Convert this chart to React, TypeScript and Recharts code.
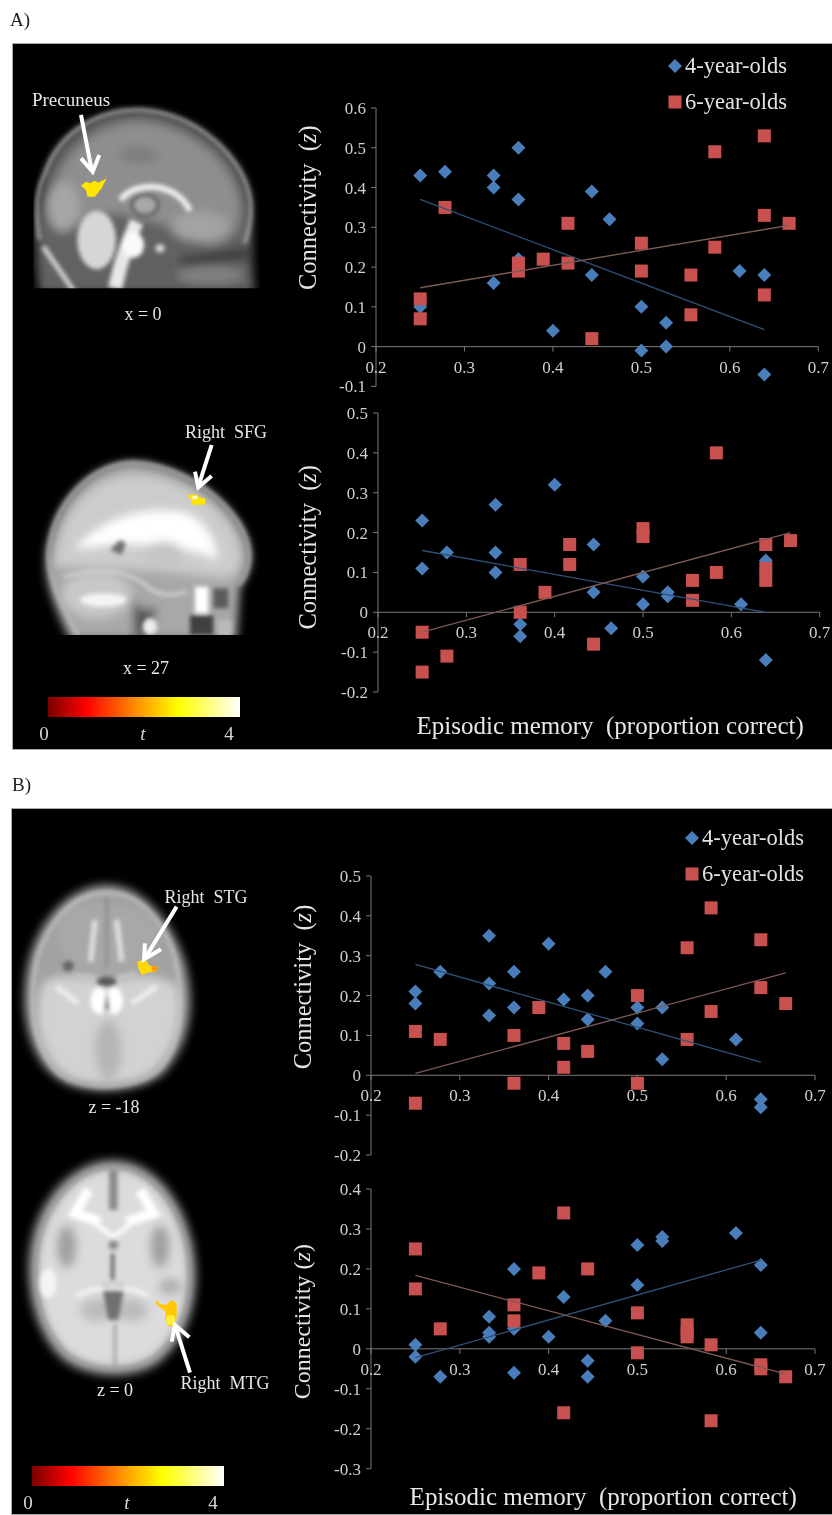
import React from 'react';
import { ScatterChart, Scatter, XAxis, YAxis, ReferenceLine, Legend, Label } from 'recharts';

type Pair = [number, number];

const xTicks = [0.2, 0.3, 0.4, 0.5, 0.6, 0.7];
const xTitle = 'Episodic memory  (proportion correct)';

const precuneusTicks = [-0.1, 0, 0.1, 0.2, 0.3, 0.4, 0.5, 0.6];
const precuneusFour: Pair[] = [[0.25, 0.43], [0.25, 0.1], [0.278, 0.44], [0.333, 0.43], [0.333, 0.4], [0.333, 0.16], [0.361, 0.5], [0.361, 0.37], [0.361, 0.22], [0.4, 0.04], [0.444, 0.39], [0.444, 0.18], [0.464, 0.32], [0.5, 0.1], [0.5, -0.01], [0.528, 0.06], [0.528, 0], [0.611, 0.19], [0.639, 0.18], [0.639, -0.07]];
const precuneusSix: Pair[] = [[0.25, 0.12], [0.25, 0.07], [0.278, 0.35], [0.361, 0.21], [0.361, 0.19], [0.389, 0.22], [0.417, 0.31], [0.417, 0.21], [0.444, 0.02], [0.5, 0.26], [0.5, 0.19], [0.556, 0.18], [0.556, 0.08], [0.583, 0.49], [0.583, 0.25], [0.639, 0.53], [0.639, 0.33], [0.639, 0.13], [0.667, 0.31]];
const precuneusFourTrend: Pair[] = [[0.25, 0.37], [0.639, 0.043]];
const precuneusSixTrend: Pair[] = [[0.25, 0.148], [0.667, 0.305]];

const sfgTicks = [-0.2, -0.1, 0, 0.1, 0.2, 0.3, 0.4, 0.5];
const sfgFour: Pair[] = [[0.25, 0.23], [0.25, 0.11], [0.278, 0.15], [0.333, 0.27], [0.333, 0.15], [0.333, 0.1], [0.361, -0.03], [0.361, -0.06], [0.4, 0.32], [0.444, 0.17], [0.444, 0.05], [0.464, -0.04], [0.5, 0.09], [0.5, 0.02], [0.528, 0.05], [0.528, 0.04], [0.611, 0.02], [0.639, 0.13], [0.639, -0.12]];
const sfgSix: Pair[] = [[0.25, -0.05], [0.25, -0.15], [0.278, -0.11], [0.361, 0.12], [0.361, 0], [0.389, 0.05], [0.417, 0.17], [0.417, 0.12], [0.444, -0.08], [0.5, 0.21], [0.5, 0.19], [0.556, 0.08], [0.556, 0.03], [0.583, 0.4], [0.583, 0.1], [0.639, 0.17], [0.639, 0.11], [0.639, 0.08], [0.667, 0.18]];
const sfgFourTrend: Pair[] = [[0.25, 0.155], [0.639, 0]];
const sfgSixTrend: Pair[] = [[0.25, -0.05], [0.667, 0.2]];

const stgTicks = [-0.2, -0.1, 0, 0.1, 0.2, 0.3, 0.4, 0.5];
const stgFour: Pair[] = [[0.25, 0.21], [0.25, 0.18], [0.278, 0.26], [0.333, 0.35], [0.333, 0.23], [0.333, 0.15], [0.361, 0.26], [0.361, 0.17], [0.4, 0.33], [0.417, 0.19], [0.444, 0.2], [0.444, 0.14], [0.464, 0.26], [0.5, 0.17], [0.5, 0.13], [0.528, 0.17], [0.528, 0.04], [0.611, 0.09], [0.639, -0.06], [0.639, -0.08]];
const stgSix: Pair[] = [[0.25, 0.11], [0.25, -0.07], [0.278, 0.09], [0.361, 0.1], [0.361, -0.02], [0.389, 0.17], [0.417, 0.08], [0.417, 0.02], [0.444, 0.06], [0.5, 0.2], [0.5, -0.02], [0.556, 0.32], [0.556, 0.09], [0.583, 0.42], [0.583, 0.16], [0.639, 0.34], [0.639, 0.22], [0.667, 0.18]];
const stgFourTrend: Pair[] = [[0.25, 0.278], [0.639, 0.033]];
const stgSixTrend: Pair[] = [[0.25, 0.005], [0.667, 0.257]];

const mtgTicks = [-0.3, -0.2, -0.1, 0, 0.1, 0.2, 0.3, 0.4];
const mtgFour: Pair[] = [[0.25, 0.01], [0.25, -0.02], [0.278, -0.07], [0.333, 0.08], [0.333, 0.04], [0.333, 0.03], [0.361, 0.2], [0.361, 0.05], [0.361, -0.06], [0.4, 0.03], [0.417, 0.13], [0.444, -0.03], [0.444, -0.07], [0.464, 0.07], [0.5, 0.26], [0.5, 0.16], [0.528, 0.28], [0.528, 0.27], [0.611, 0.29], [0.639, 0.21], [0.639, 0.04]];
const mtgSix: Pair[] = [[0.25, 0.25], [0.25, 0.15], [0.278, 0.05], [0.361, 0.11], [0.361, 0.07], [0.389, 0.19], [0.417, 0.34], [0.417, -0.16], [0.444, 0.2], [0.5, 0.09], [0.5, -0.01], [0.556, 0.06], [0.556, 0.04], [0.556, 0.03], [0.583, 0.01], [0.583, -0.18], [0.639, -0.04], [0.639, -0.05], [0.667, -0.07]];
const mtgFourTrend: Pair[] = [[0.25, -0.022], [0.639, 0.222]];
const mtgSixTrend: Pair[] = [[0.25, 0.184], [0.667, -0.063]];

const SERIF = '"Liberation Serif", serif';
const BLUE = '#4a7ebb';
const RED = '#c8504e';
const BLUE_LINE = '#2f5178';
const RED_LINE = '#7d5a55';
const AXIS = '#7a7a7a';
const TICK_TEXT = '#cfcfcf';
const Y_AXIS_WIDTH = 100;

const toPoints = (pairs: Pair[]) => pairs.map(([x, y]) => ({ x, y }));

const DiamondMark = (props: any) => {
  const { cx, cy, fill } = props;
  const r = 7;
  return <path d={`M${cx},${cy - r}L${cx + r},${cy}L${cx},${cy + r}L${cx - r},${cy}Z`} fill={fill} />;
};

const SquareMark = (props: any) => {
  const { cx, cy, fill } = props;
  return <rect x={cx - 6.5} y={cy - 6.5} width={13} height={13} fill={fill} />;
};

const NoMark = () => <g />;

// the trend lines come through in the payload too, only the two groups get a row
const renderLegend = (props: any) => (
  <div style={{ fontFamily: SERIF, fontSize: 22.5, color: '#e2e2e2', lineHeight: '36px', whiteSpace: 'nowrap' }}>
    {props.payload.filter((entry: any) => entry.type !== 'none' && entry.value).map((entry: any) => (
      <div key={entry.value} style={{ display: 'flex', alignItems: 'center', height: 36 }}>
        <svg width={16} height={16} style={{ marginRight: 2 }}>
          {entry.type === 'diamond'
            ? <DiamondMark cx={8} cy={8} fill={entry.color} />
            : <SquareMark cx={8} cy={8} fill={entry.color} />}
        </svg>
        {entry.value}
      </div>
    ))}
  </div>
);

interface PlotProps {
  x0: number; x7: number; yTop: number; yBottom: number;
  ticks: number[];
  four: Pair[]; six: Pair[]; fourTrend: Pair[]; sixTrend: Pair[];
  yTitleX: number; yTitleY: number; italicZ?: boolean;
  legendAt?: [number, number];
  xTitleAt?: [number, number];
}

const Plot: React.FC<PlotProps> = ({ x0, x7, yTop, yBottom, ticks, four, six, fourTrend, sixTrend, yTitleX, yTitleY, italicZ, legendAt, xTitleAt }) => {
  const topSpace = 70;
  const bottomSpace = 50;
  const rightSpace = 13;
  const left = x0 - Y_AXIS_WIDTH;
  const top = yTop - topSpace;
  const width = x7 - left + rightSpace;
  const height = yBottom - top + bottomSpace;
  const yMin = ticks[0];
  const yMax = ticks[ticks.length - 1];
  // where y = 0 falls, the x axis labels hang from it
  const zeroY = topSpace + ((yBottom - yTop) * yMax) / (yMax - yMin);

  const renderXTick = (p: any) => (
    <g>
      <line x1={p.x} x2={p.x} y1={zeroY} y2={zeroY + 5} stroke={AXIS} />
      <text x={p.x} y={zeroY + 26} textAnchor="middle" fontFamily={SERIF} fontSize={17} fill={TICK_TEXT}>
        {p.payload.value}
      </text>
    </g>
  );

  const renderYTitle = () => (
    <text
      transform={`translate(${yTitleX - left},${yTitleY - top}) rotate(-90)`}
      textAnchor="middle"
      dominantBaseline="central"
      fontFamily={SERIF}
      fontSize={italicZ ? 24 : 24.5}
      fill="#e4e4e4"
      style={{ whiteSpace: 'pre' }}
    >
      {italicZ ? <>Connectivity (<tspan fontStyle="italic">z</tspan>)</> : <>Connectivity  (<tspan fontStyle="italic">z</tspan>)</>}
    </text>
  );

  const renderXTitle = () => xTitleAt ? (
    <text
      x={xTitleAt[0] - left}
      y={xTitleAt[1] - top}
      textAnchor="middle"
      dominantBaseline="central"
      fontFamily={SERIF}
      fontSize={25}
      fill="#e8e8e8"
      style={{ whiteSpace: 'pre' }}
    >
      {xTitle}
    </text>
  ) : <g />;

  return (
    <div style={{ position: 'absolute', left, top }}>
      <ScatterChart width={width} height={height} margin={{ top: topSpace, right: rightSpace, bottom: bottomSpace - 1, left: 0 }}>
        <XAxis
          type="number"
          dataKey="x"
          domain={[0.2, 0.7]}
          ticks={xTicks}
          interval={0}
          height={1}
          axisLine={false}
          tickLine={false}
          tick={renderXTick}
        >
          <Label content={renderXTitle} />
        </XAxis>
        <YAxis
          type="number"
          dataKey="y"
          domain={[yMin, yMax]}
          ticks={ticks}
          interval={0}
          width={Y_AXIS_WIDTH}
          axisLine={{ stroke: AXIS }}
          tickLine={{ stroke: AXIS }}
          tickSize={5}
          tickMargin={5}
          tick={{ fontFamily: SERIF, fontSize: 17, fill: TICK_TEXT }}
        >
          <Label content={renderYTitle} />
        </YAxis>
        <ReferenceLine y={0} stroke={AXIS} />
        {legendAt && (
          <Legend
            layout="vertical"
            align="center"
            verticalAlign="middle"
            content={renderLegend}
            wrapperStyle={{ left: legendAt[0] - left, top: legendAt[1] - top, width: 140, height: 72, bottom: 'auto', right: 'auto', margin: 0 }}
          />
        )}
        <Scatter name="4-year-olds" data={toPoints(four)} fill={BLUE} shape={DiamondMark} legendType="diamond" isAnimationActive={false} />
        <Scatter name="6-year-olds" data={toPoints(six)} fill={RED} shape={SquareMark} legendType="square" isAnimationActive={false} />
        <Scatter data={toPoints(fourTrend)} shape={NoMark} line={{ stroke: BLUE_LINE, strokeWidth: 1.3 }} legendType="none" isAnimationActive={false} />
        <Scatter data={toPoints(sixTrend)} shape={NoMark} line={{ stroke: RED_LINE, strokeWidth: 1.3 }} legendType="none" isAnimationActive={false} />
      </ScatterChart>
    </div>
  );
};

const Arrow = ({ line, head }: { line: string; head: string }) => (
  <g fill="none" stroke="#fff" strokeWidth={12}>
    <polyline points={line} />
    <polyline points={head} />
  </g>
);

// the brain slices are only sketched, in 3x coordinates of their own
const SagittalOne = () => (
  <g transform="translate(0,40) scale(0.3333)">
    <g clipPath="url(#cutOne)">
      <g filter="url(#wide)">
        <path d="M118,760 C100,620 105,500 135,400 C175,280 290,208 420,210 C580,215 740,350 755,490 C760,560 750,640 765,760 Z" fill="#626262" />
        <path d="M150,540 C140,400 240,250 420,245 C570,255 710,370 720,500 C722,560 700,610 620,615 C540,560 450,540 350,520 C290,520 230,560 190,570 Z" fill="#8e8e8e" />
        <ellipse cx={415} cy={345} rx={60} ry={22} fill="#7b7b7b" />
        <ellipse cx={190} cy={500} rx={48} ry={75} fill="#a6a6a6" />
        <ellipse cx={600} cy={560} rx={85} ry={45} fill="#a3a3a3" />
        <path d="M540,650 L740,620 L750,660 L540,680 Z" fill="#3d3d3d" />
        <ellipse cx={630} cy={705} rx={100} ry={28} fill="#808080" />
        <ellipse cx={460} cy={690} rx={60} ry={40} fill="#606060" />
      </g>
      <g filter="url(#soft)">
        <path d="M118,600 C105,500 110,450 135,400 C175,280 290,208 420,210 C580,215 740,350 752,490 C755,540 745,580 735,610" fill="none" stroke="#b5b5b5" strokeWidth={9} />
        <path d="M130,620 C170,680 200,720 225,760" stroke="#d8d8d8" strokeWidth={14} fill="none" />
        <ellipse cx={290} cy={600} rx={58} ry={88} fill="#d6d6d6" />
        <path d="M345,745 C365,650 390,590 410,545" stroke="#e8e8e8" strokeWidth={42} fill="none" />
        <ellipse cx={400} cy={615} rx={32} ry={38} fill="#fafafa" />
        <ellipse cx={435} cy={495} rx={38} ry={30} fill="#a8a8a8" stroke="#474747" strokeWidth={8} />
        <path d="M362,480 C400,425 525,420 570,512" stroke="#f2f2f2" strokeWidth={18} fill="none" />
        <ellipse cx={480} cy={625} rx={14} ry={12} fill="#ddd" />
      </g>
    </g>
    <polygon points="243,437 258,425 270,430 285,422 295,428 320,415 305,445 285,470 262,470 258,450" fill="#ffe600" />
    <Arrow line="243,225 275,390" head="243,355 278,395 298,345" />
  </g>
);

const SagittalTwo = () => (
  <g transform="translate(0,410) scale(0.3333)">
    <g clipPath="url(#cutTwo)">
      <g filter="url(#wide)">
        <path d="M210,690 C170,600 130,520 140,430 C160,270 280,155 400,155 C560,160 740,300 752,430 C755,480 735,510 720,530 L710,690 Z" fill="#a8a8a8" />
        <path d="M165,470 C170,300 290,190 410,195 C560,200 715,320 722,440 C720,490 690,510 640,500 C520,480 300,470 165,470 Z" fill="#cccccc" />
        <path d="M225,420 C300,320 450,285 560,310 C620,340 650,390 650,450 C560,400 350,390 225,420 Z" fill="#ffffff" />
        <ellipse cx={490} cy={430} rx={60} ry={35} fill="#c4c4c4" />
        <ellipse cx={290} cy={555} rx={105} ry={70} fill="#c8c8c8" />
        <path d="M400,570 L430,600 L470,590 L450,680 L400,680 Z" fill="#555" />
      </g>
      <g filter="url(#soft)">
        <path d="M235,680 C190,590 145,520 145,430 C160,270 280,158 400,158 C560,163 740,300 748,430 C750,470 735,505 715,525" fill="none" stroke="#bdbdbd" strokeWidth={9} />
        <path d="M330,420 L360,390 L378,400 L365,435 Z" fill="#6f6f6f" />
        <ellipse cx={310} cy={570} rx={70} ry={20} fill="#f4f4f4" />
        <path d="M190,500 C270,480 360,470 430,520 C470,560 520,560 560,545" stroke="#d5d5d5" strokeWidth={9} fill="none" />
        <ellipse cx={450} cy={650} rx={22} ry={25} fill="#eee" />
        <rect x={585} y={530} width={40} height={80} fill="#fff" />
        <rect x={640} y={535} width={45} height={60} fill="#5c5c5c" />
        <rect x={570} y={615} width={70} height={60} fill="#3f3f3f" />
        <rect x={655} y={630} width={40} height={50} fill="#bbb" />
      </g>
    </g>
    <polygon points="565,254 590,254 600,263 615,265 615,284 573,284 575,268 565,262" fill="#ffe600" />
    <rect x={577} y={258} width={14} height={10} fill="#fff8c0" />
    <Arrow line="635,105 595,230" head="585,185 595,232 635,198" />
  </g>
);

const AxialOne = () => (
  <g transform="translate(0,850) scale(0.3333)">
    <g filter="url(#wide)">
      <path d="M320,105 C430,105 520,220 555,340 C590,470 565,590 490,670 C420,730 240,745 160,675 C85,610 55,480 85,340 C115,210 210,105 320,105 Z" fill="#a2a2a2" />
      <path d="M130,400 C180,360 260,390 320,390 C380,390 470,360 530,410 C555,520 510,640 430,680 C360,710 250,710 190,670 C120,610 95,490 130,400 Z" fill="#d2d2d2" />
      <path d="M190,180 C250,155 400,155 450,200 C490,260 470,320 400,360 L240,360 C170,320 160,240 190,180 Z" fill="#a8a8a8" />
      <ellipse cx={325} cy={600} rx={40} ry={90} fill="#b5b5b5" />
    </g>
    <g filter="url(#soft)">
      <path d="M320,128 C420,128 490,210 525,320 C555,470 540,600 470,665 C400,720 240,728 170,665 C100,590 80,470 112,320 C150,210 220,128 320,128 Z" fill="none" stroke="#c9c9c9" strokeWidth={8} />
      <line x1={320} y1={140} x2={320} y2={350} stroke="#777" strokeWidth={5} />
      <path d="M285,210 L272,335 M350,210 L365,335" stroke="#e2e2e2" strokeWidth={16} />
      <circle cx={205} cy={348} r={16} fill="#636363" />
      <ellipse cx={320} cy={395} rx={30} ry={16} fill="#5c5c5c" />
      <path d="M225,375 L285,380 M355,380 L410,370" stroke="#dedede" strokeWidth={5} />
      <ellipse cx={298} cy={452} rx={27} ry={40} fill="#fff" />
      <ellipse cx={342} cy={452} rx={27} ry={40} fill="#fff" />
      <path d="M320,420 L312,480 L330,480 Z" fill="#777" />
      <path d="M170,410 L235,460 M470,410 L395,460" stroke="#f0f0f0" strokeWidth={15} />
    </g>
    <polygon points="412,335 435,328 450,348 470,348 470,364 445,368 425,375 415,355" fill="#ffd900" />
    <rect x={455} y={348} width={15} height={16} fill="#ff9a00" />
    <Arrow line="530,170 435,325" head="435,280 432,328 483,298" />
  </g>
);

const AxialTwo = () => (
  <g transform="translate(0,1150) scale(0.3333)">
    <g filter="url(#wide)">
      <path d="M340,30 C450,30 540,130 575,270 C610,420 570,560 480,635 C410,690 270,690 190,630 C110,560 65,410 95,270 C125,130 230,30 340,30 Z" fill="#9c9c9c" />
      <path d="M340,58 C440,58 520,150 552,280 C582,420 548,540 465,612 C400,662 280,662 205,608 C130,540 98,410 122,280 C150,150 240,58 340,58 Z" fill="#dcdcdc" />
      <ellipse cx={200} cy={290} rx={30} ry={65} fill="#a0a0a0" />
      <ellipse cx={480} cy={290} rx={30} ry={65} fill="#a0a0a0" />
      <ellipse cx={510} cy={410} rx={34} ry={26} fill="#b0b0b0" />
      <ellipse cx={290} cy={480} rx={50} ry={35} fill="#bcbcbc" />
      <ellipse cx={395} cy={480} rx={50} ry={35} fill="#bcbcbc" />
    </g>
    <g filter="url(#soft)">
      <path d="M340,52 C445,52 525,150 558,280 C588,420 552,545 468,618 C400,668 280,668 202,612 C125,540 92,410 116,280 C145,150 235,52 340,52 Z" fill="none" stroke="#8a8a8a" strokeWidth={6} />
      <path d="M265,120 L225,190 L300,215 M420,120 L460,190 L380,215" fill="none" stroke="#fff" strokeWidth={30} />
      <path d="M290,225 L340,260 L390,225" fill="none" stroke="#fff" strokeWidth={12} />
      <line x1={340} y1={60} x2={340} y2={180} stroke="#8a8a8a" strokeWidth={26} />
      <circle cx={340} cy={285} r={15} fill="#8c8c8c" />
      <line x1={338} y1={310} x2={338} y2={390} stroke="#4a4a4a" strokeWidth={9} />
      <path d="M305,405 L375,405 L355,510 L325,510 Z" fill="#6f6f6f" />
      <line x1={345} y1={520} x2={345} y2={650} stroke="#999" strokeWidth={8} />
      <path d="M230,440 C280,405 400,405 445,440" fill="none" stroke="#f5f5f5" strokeWidth={12} />
      <ellipse cx={145} cy={400} rx={25} ry={45} fill="#f4f4f4" />
    </g>
    <polygon points="468,450 480,462 498,465 515,450 530,460 530,500 525,530 505,528 495,510 498,485 480,472 468,460" fill="#ffc800" />
    <ellipse cx={512} cy={510} rx={14} ry={16} fill="#ffef40" />
    <Arrow line="570,668 525,525" head="515,575 525,525 568,562" />
  </g>
);

const ColorBar = ({ x, y, id }: { x: number; y: number; id: string }) => (
  <g>
    <rect x={x} y={y} width={192} height={20} fill={`url(#${id})`} />
    <text x={x - 4} y={y + 43} textAnchor="middle" fontSize={19} fill="#d8d8d8" fontFamily={SERIF}>0</text>
    <text x={x + 95} y={y + 43} textAnchor="middle" fontSize={19} fontStyle="italic" fill="#d8d8d8" fontFamily={SERIF}>t</text>
    <text x={x + 181} y={y + 43} textAnchor="middle" fontSize={19} fill="#d8d8d8" fontFamily={SERIF}>4</text>
  </g>
);

const Caption = ({ x, y, children, size = 18 }: { x: number; y: number; children: React.ReactNode; size?: number }) => (
  <text x={x} y={y} textAnchor="middle" dominantBaseline="central" fontFamily={SERIF} fontSize={size} fill="#e6e6e6" style={{ whiteSpace: 'pre' }}>
    {children}
  </text>
);

const BrainLayer = () => (
  <svg width={832} height={1515} style={{ position: 'absolute', left: 0, top: 0 }}>
    <defs>
      <filter id="soft" x="-10%" y="-10%" width="120%" height="120%"><feGaussianBlur stdDeviation={6} /></filter>
      <filter id="wide" x="-10%" y="-10%" width="120%" height="120%"><feGaussianBlur stdDeviation={14} /></filter>
      <clipPath id="cutOne"><rect x={100} y={190} width={680} height={555} /></clipPath>
      <clipPath id="cutTwo"><rect x={100} y={130} width={680} height={545} /></clipPath>
      {['heatA', 'heatB'].map((id) => (
        <linearGradient key={id} id={id}>
          <stop offset="0" stopColor="#7a0000" />
          <stop offset="0.2" stopColor="#ff0000" />
          <stop offset="0.45" stopColor="#ff8a00" />
          <stop offset="0.68" stopColor="#ffff00" />
          <stop offset="1" stopColor="#ffffff" />
        </linearGradient>
      ))}
    </defs>
    <SagittalOne />
    <SagittalTwo />
    <AxialOne />
    <AxialTwo />
    <Caption x={71} y={99} size={19}>Precuneus</Caption>
    <Caption x={143} y={314}>x = 0</Caption>
    <Caption x={226} y={432}>Right  SFG</Caption>
    <Caption x={146} y={668}>x = 27</Caption>
    <Caption x={206} y={897}>Right  STG</Caption>
    <Caption x={114} y={1107}>z = -18</Caption>
    <Caption x={225} y={1383}>Right  MTG</Caption>
    <Caption x={115} y={1390}>z = 0</Caption>
    <ColorBar x={48} y={697} id="heatA" />
    <ColorBar x={32} y={1466} id="heatB" />
  </svg>
);

const Panel = ({ top, height, left }: { top: number; height: number; left: number }) => (
  <div style={{ position: 'absolute', left, top, width: 832 - left, height, background: '#000', borderTop: '1px solid #aaa', borderLeft: '1px solid #aaa', borderBottom: '1px solid #aaa', boxSizing: 'border-box' }} />
);

const PanelMark = ({ top, left, children }: { top: number; left: number; children: string }) => (
  <div style={{ position: 'absolute', left, top, fontFamily: SERIF, fontSize: 19, color: '#222', lineHeight: '20px' }}>{children}</div>
);

const App: React.FC = () => (
  <div style={{ position: 'absolute', left: 0, top: 0, width: 832, height: 1515, background: '#fff', overflow: 'hidden', filter: 'blur(0.4px)' }}>
    <PanelMark left={10} top={10}>A)</PanelMark>
    <PanelMark left={12} top={775}>B)</PanelMark>
    <Panel left={12} top={43} height={707} />
    <Panel left={11} top={808} height={707} />
    <BrainLayer />
    <Plot x0={375.7} x7={818} yTop={108.3} yBottom={386.7} ticks={precuneusTicks} four={precuneusFour} six={precuneusSix} fourTrend={precuneusFourTrend} sixTrend={precuneusSixTrend} yTitleX={307} yTitleY={208} legendAt={[667, 48]} />
    <Plot x0={377.8} x7={819.5} yTop={412.7} yBottom={691.7} ticks={sfgTicks} four={sfgFour} six={sfgSix} fourTrend={sfgFourTrend} sixTrend={sfgSixTrend} yTitleX={307} yTitleY={547} xTitleAt={[610, 725]} />
    <Plot x0={370.8} x7={814.8} yTop={876} yBottom={1155} ticks={stgTicks} four={stgFour} six={stgSix} fourTrend={stgFourTrend} sixTrend={stgSixTrend} yTitleX={302} yTitleY={987} legendAt={[684, 820]} />
    <Plot x0={370.8} x7={814.8} yTop={1189.3} yBottom={1469} ticks={mtgTicks} four={mtgFour} six={mtgSix} fourTrend={mtgFourTrend} sixTrend={mtgSixTrend} yTitleX={302} yTitleY={1322} italicZ xTitleAt={[603, 1497]} />
  </div>
);

export default App;
